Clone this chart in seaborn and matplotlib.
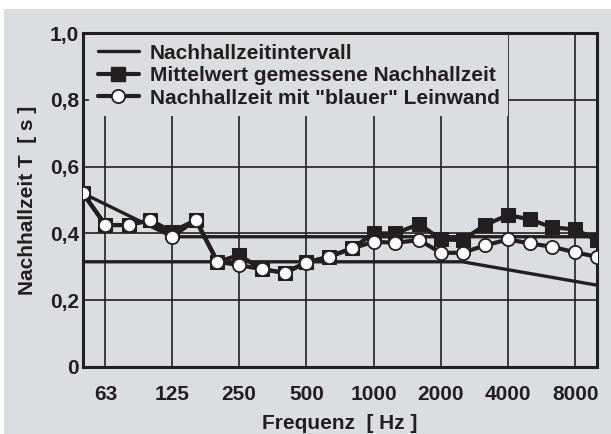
import numpy as np
import pandas as pd
import matplotlib
matplotlib.use("Agg")
import matplotlib.pyplot as plt
from matplotlib.lines import Line2D
from matplotlib.patches import Rectangle
import seaborn as sns

sns.set_style("white")
plt.rcParams["font.family"] = ["Liberation Sans", "DejaVu Sans"]
plt.rcParams["font.weight"] = "bold"

# third-octave centre frequencies (Hz)
freqs = [50, 63, 80, 100, 125, 160, 200, 250, 315, 400, 500, 630, 800,
         1000, 1250, 1600, 2000, 2500, 3150, 4000, 5000, 6300, 8000, 10000]

mean_T = [0.52, 0.425, 0.425, 0.44, 0.405, 0.44, 0.315, 0.335, 0.293, 0.282,
          0.313, 0.33, 0.355, 0.40, 0.40, 0.428, 0.382, 0.38, 0.425, 0.455,
          0.442, 0.418, 0.412, 0.38]

blue_T = [0.52, 0.425, 0.425, 0.44, 0.39, 0.44, 0.315, 0.305, 0.293, 0.282,
          0.312, 0.33, 0.355, 0.375, 0.372, 0.38, 0.342, 0.342, 0.364, 0.382,
          0.37, 0.36, 0.343, 0.33]

# tolerance interval
upper_f = [50, 125, 10000]
upper_T = [0.52, 0.39, 0.39]
lower_f = [50, 2500, 10000]
lower_T = [0.315, 0.315, 0.245]

tick_pos = [63, 125, 250, 500, 1000, 2000, 4000, 8000]
tick_lbl = ["63", "125", "250", "500", "1000", "2000", "4000", "8000"]
y_ticks = [0, 0.2, 0.4, 0.6, 0.8, 1.0]
y_lbl = ["0", "0,2", "0,4", "0,6", "0,8", "1,0"]

ink = "#231f20"
bg = "#dcdde0"

df = pd.DataFrame({"f": freqs, "mean": mean_T, "blue": blue_T})
tol = pd.concat([
    pd.DataFrame({"f": upper_f, "T": upper_T, "b": "upper"}),
    pd.DataFrame({"f": lower_f, "T": lower_T, "b": "lower"}),
])

fig = plt.figure(figsize=(6.11, 4.34), dpi=100)
fig.patch.set_facecolor("white")
fig.patches.append(Rectangle((4 / 611, 0), 1, 1 - 9 / 434, transform=fig.transFigure,
                             facecolor=bg, edgecolor="none", zorder=-10))
ax = fig.add_axes([83 / 611, 1 - 367 / 434, 514 / 611, 334 / 434])
ax.set_facecolor(bg)
ax.set_xscale("log")

for b in ["upper", "lower"]:
    sns.lineplot(data=tol[tol.b == b], x="f", y="T", color=ink, lw=2.4,
                 sort=False, ax=ax, legend=False, zorder=3)

sns.lineplot(data=df, x="f", y="mean", color=ink, lw=3, marker="s",
             markersize=10, markerfacecolor=ink, markeredgecolor=ink,
             ax=ax, zorder=4)
sns.lineplot(data=df, x="f", y="blue", color=ink, lw=3, marker="o",
             markersize=9.5, markerfacecolor="white", markeredgecolor=ink,
             markeredgewidth=1.3, ax=ax, zorder=5)

ax.set_xlim(50, 10000)
ax.set_ylim(0, 1.0)
ax.set_xticks(tick_pos)
ax.set_xticklabels(tick_lbl)
ax.minorticks_off()
ax.set_yticks(y_ticks)
ax.set_yticklabels(y_lbl)
ax.tick_params(length=0, labelsize=15, colors=ink)
ax.tick_params(axis="x", pad=13)
ax.tick_params(axis="y", pad=3)
ax.grid(True, color=ink, lw=1.2, zorder=1)
ax.set_axisbelow(True)
for s in ax.spines.values():
    s.set_color(ink)
    s.set_linewidth(2.2)

ax.set_xlabel("Frequenz  [ Hz ]", fontsize=15, fontweight="bold", color=ink, labelpad=7)
ax.set_ylabel("Nachhallzeit T  [ s ]", fontsize=15, fontweight="bold", color=ink, labelpad=9)

handles = [
    Line2D([], [], color=ink, lw=2.4),
    Line2D([], [], color=ink, lw=3, marker="s", markersize=10),
    Line2D([], [], color=ink, lw=3, marker="o", markersize=9.5,
           markerfacecolor="white", markeredgecolor=ink, markeredgewidth=1.3),
]
labels = ["Nachhallzeitintervall", "Mittelwert gemessene Nachhallzeit",
          'Nachhallzeit mit "blauer" Leinwand']
leg = ax.legend(handles, labels, loc="upper left", bbox_to_anchor=(0.0, 1.012),
                fontsize=15, frameon=True,
                facecolor=bg, edgecolor="none", framealpha=1, fancybox=False,
                handlelength=2.0, handletextpad=0.5, labelspacing=0.17,
                borderpad=0.4, borderaxespad=0.3)
for t in leg.get_texts():
    t.set_color(ink)
    t.set_fontweight("bold")

fig.savefig("out.png", dpi=100)
